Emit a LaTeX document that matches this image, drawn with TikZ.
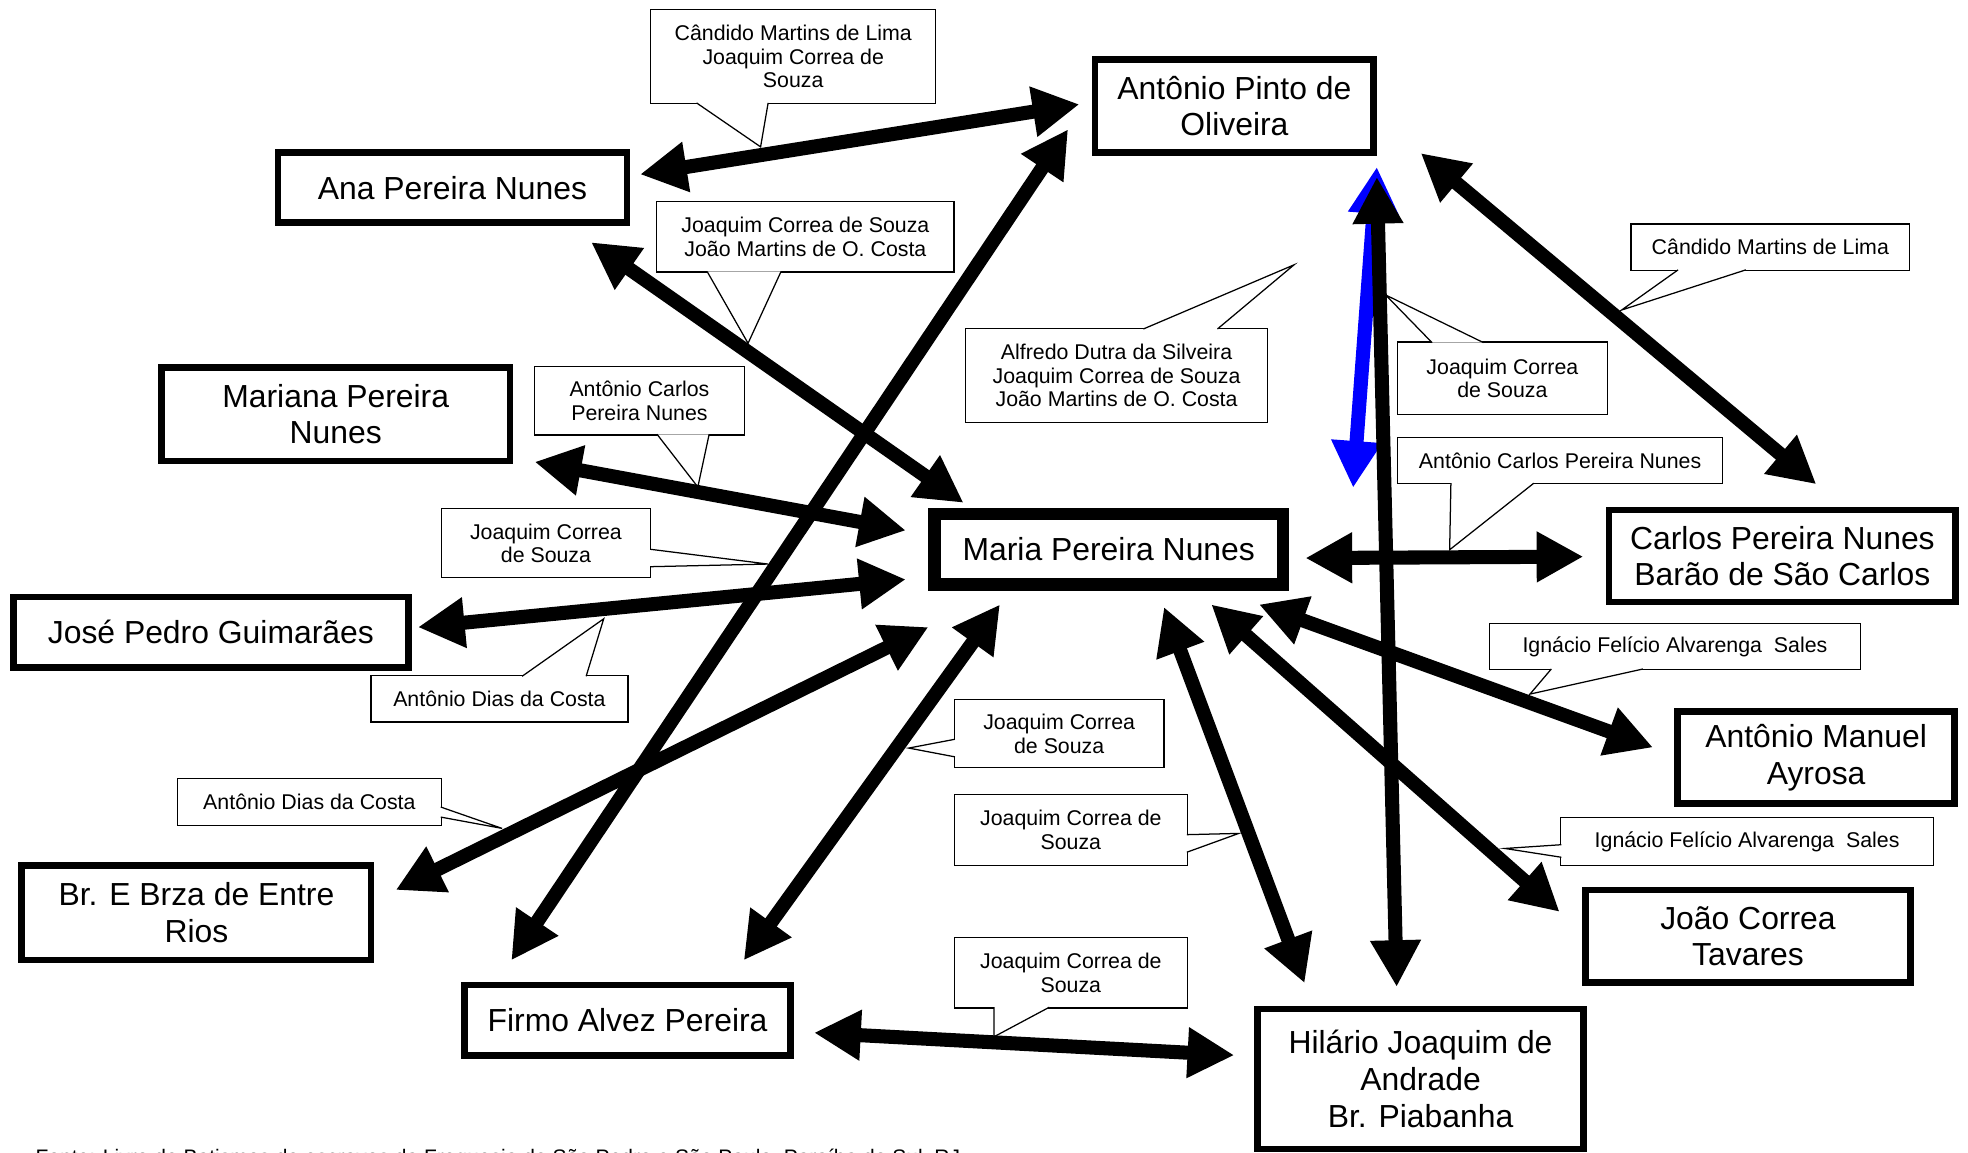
\documentclass[tikz,border=0pt]{standalone}
\usepackage{fontspec}
\setmainfont{Liberation Sans}
\usetikzlibrary{arrows.meta}

\begin{document}
\begin{tikzpicture}[x=0.5pt, y=-0.5pt, >={Triangle[length=18.6pt, width=19pt]},
        person/.style={draw, line width=2.6pt, align=center, inner sep=0pt, font=\fontsize{12.7}{14.65}\selectfont},
        note/.style={draw, fill=white, line width=0.5pt, align=center, inner sep=0pt, font=\fontsize{8.5}{9.4}\selectfont},
        link/.style={<->, line width=5.6pt},
        pointer/.style={draw, fill=white, line width=0.5pt}]
        \useasboundingbox (0,0) rectangle (1568,918);

        \node [person, minimum width=110.9pt, minimum height=36.9pt] (pinto) at (983.5,84.5) {Antônio Pinto de\\Oliveira};
        \node [person, minimum width=138.9pt, minimum height=27.9pt] (ana) at (360.5,149.5) {Ana Pereira Nunes};
        \node [person, minimum width=138.9pt, minimum height=37.4pt] (mariana) at (267.5,330) {Mariana Pereira\\Nunes};
        \node [person, minimum width=157.4pt, minimum height=28.2pt] (jose) at (168,503.7) {José Pedro Guimarães};
        \node [person, minimum width=139.2pt, minimum height=37.6pt] (brza) at (156.5,727.3) {Br. E Brza de Entre\\Rios};
        \node [person, minimum width=130pt, minimum height=28.1pt] (firmo) at (500,812.8) {Firmo Alvez Pereira};
        \node [person, minimum width=129.8pt, minimum height=55.8pt] (hilario) at (1131.8,859.7) {Hilário Joaquim de\\Andrade\\Br. Piabanha};
        \node [person, line width=4.9pt, minimum width=138.8pt, minimum height=28.1pt] (maria) at (883.4,437.6) {Maria Pereira Nunes};
        \node [person, minimum width=138pt, minimum height=36.6pt] (carlos) at (1420.1,443) {Carlos Pereira Nunes\\Barão de São Carlos};
        \node [person, minimum width=110.4pt, minimum height=36.6pt] (manuel) at (1447,603.5) {Antônio Manuel\\Ayrosa};
        \node [person, minimum width=129.5pt, minimum height=36.9pt] (joao) at (1392.7,746) {João Correa\\Tavares};

        \node [note, minimum width=113.5pt, minimum height=37.5pt] (c1) at (632,45) {Cândido Martins de Lima\\Joaquim Correa de\\Souza};
        \node [note, minimum width=118.4pt, minimum height=28.1pt] (c2) at (641.7,188.7) {Joaquim Correa de Souza\\João Martins de O. Costa};
        \node [note, minimum width=120.5pt, minimum height=37.6pt] (c3) at (889.6,299.2) {Alfredo Dutra da Silveira\\Joaquim Correa de Souza\\João Martins de O. Costa};
        \node [note, minimum width=83.6pt, minimum height=27.3pt] (c4) at (509.5,319.2) {Antônio Carlos\\Pereira Nunes};
        \node [note, minimum width=83.5pt, minimum height=27.4pt] (c5) at (435,432.8) {Joaquim Correa\\de Souza};
        \node [note, minimum width=102.4pt, minimum height=18.5pt] (c6) at (397.9,556.8) {Antônio Dias da Costa};
        \node [note, minimum width=105.2pt, minimum height=18.5pt] (c7) at (246.5,639) {Antônio Dias da Costa};
        \node [note, minimum width=83.6pt, minimum height=27.1pt] (c8) at (843.9,584.6) {Joaquim Correa\\de Souza};
        \node [note, minimum width=92.9pt, minimum height=28.1pt] (c9) at (853.2,661.2) {Joaquim Correa de\\Souza};
        \node [note, minimum width=92.9pt, minimum height=28.1pt] (c10) at (853.2,774.9) {Joaquim Correa de\\Souza};
        \node [note, minimum width=83.5pt, minimum height=29pt] (c11) at (1197,301.5) {Joaquim Correa\\de Souza};
        \node [note, minimum width=129.5pt, minimum height=18.5pt] (c12) at (1243,367) {Antônio Carlos Pereira Nunes};
        \node [note, minimum width=111pt, minimum height=18.5pt] (c13) at (1410.5,197) {Cândido Martins de Lima};
        \node [note, minimum width=148pt, minimum height=18.5pt] (c14) at (1334.5,515) {Ignácio Felício Alvarenga\ \ Sales};
        \node [note, minimum width=148.5pt, minimum height=19pt] (c15) at (1392,670.5) {Ignácio Felício Alvarenga\ \ Sales};

        \draw [pointer] ([shift={(-77,-1)}]c1.south) -- (606,117) -- ([shift={(-20,-1)}]c1.south);
        \draw [pointer] ([shift={(-78.3,-1)}]c2.south) -- (596,273.5) -- ([shift={(-19.4,-1)}]c2.south);
        \draw [pointer] ([shift={(21.4,1)}]c3.north) -- (1031,211) -- ([shift={(80.4,1)}]c3.north);
        \draw [pointer] ([shift={(14,-1)}]c4.south) -- (556,388) -- ([shift={(55.5,-1)}]c4.south);
        \draw [pointer] ([shift={(-1,4.8)}]c5.east) -- (612,449.4) -- ([shift={(-1,18.7)}]c5.east);
        \draw [pointer] ([shift={(18.1,1)}]c6.north) -- (481,493) -- ([shift={(69.1,1)}]c6.north);
        \draw [pointer] ([shift={(-1,4)}]c7.east) -- (400,660) -- ([shift={(-1,12)}]c7.east);
        \draw [pointer] ([shift={(1,4.4)}]c8.west) -- (724,596) -- ([shift={(1,18.4)}]c8.west);
        \draw [pointer] ([shift={(-1,3.8)}]c9.east) -- (987,664) -- ([shift={(-1,17.8)}]c9.east);
        \draw [pointer] ([shift={(-61.2,-1)}]c10.south) -- (792,826) -- ([shift={(-17.2,-1)}]c10.south);
        \draw [pointer] ([shift={(-56,1)}]c11.north) -- (1104,235) -- ([shift={(-15,1)}]c11.north);
        \draw [pointer] ([shift={(-87,-1)}]c12.south) -- (1155,438) -- ([shift={(-21,-1)}]c12.south);
        \draw [pointer] ([shift={(-73.5,-1)}]c13.south) -- (1292,247) -- ([shift={(-19.5,-1)}]c13.south);
        \draw [pointer] ([shift={(-98.5,-1)}]c14.south) -- (1219,553) -- ([shift={(-25.5,-1)}]c14.south);
        \draw [pointer] ([shift={(1,2.5)}]c15.west) -- (1199,676) -- ([shift={(1,12.5)}]c15.west);

        \draw [link, blue] ([shift={(0,9)}]pinto.south east) -- ([shift={(51,-16)}]maria.north east);
        \draw [link] ([shift={(8,-10.6)}]ana.east) -- ([shift={(-10,-1.4)}]pinto.west);
        \draw [link] ([shift={(-31,13)}]ana.south east) -- ([shift={(28,-4)}]maria.north west);
        \draw [link] ([shift={(17,-2)}]mariana.south east) -- ([shift={(-18,-15)}]maria.west);
        \draw [link] ([shift={(5,-4)}]jose.east) -- ([shift={(-18,24)}]maria.west);
        \draw [link] ([shift={(17,22)}]brza.north east) -- ([shift={(0,29)}]maria.south west);
        \draw [link] ([shift={(40,-17)}]firmo.north west) -- ([shift={(-19,-21)}]pinto.south west);
        \draw [link] ([shift={(-40,-17)}]firmo.north east) -- ([shift={(57,11)}]maria.south west);
        \draw [link] ([shift={(16,10)}]firmo.east) -- ([shift={(-16,-19)}]hilario.west);
        \draw [link] ([shift={(40,-18)}]hilario.north west) -- ([shift={(44,13)}]maria.south);
        \draw [link] ([shift={(-19,-15)}]hilario.north) -- ([shift={(0,17)}]pinto.south east);
        \draw [link] ([shift={(35,-2)}]pinto.south east) -- ([shift={(27,-18)}]carlos.north);
        \draw [link] ([shift={(13,7)}]maria.east) -- ([shift={(-18,0.5)}]carlos.west);
        \draw [link] ([shift={(-24,11)}]maria.south east) -- ([shift={(-17,-8)}]manuel.west);
        \draw [link] ([shift={(-62,11)}]maria.south east) -- ([shift={(-18,20)}]joao.north west);

        \node [anchor=base west, inner sep=0pt, font=\fontsize{8.37}{10}\selectfont] (fonte) at (28,927.5) {Fonte: Livro de Batismos de escravos da Freguesia de São Pedro e São Paulo, Paraíba do Sul, RJ};
\end{tikzpicture}
\end{document}
